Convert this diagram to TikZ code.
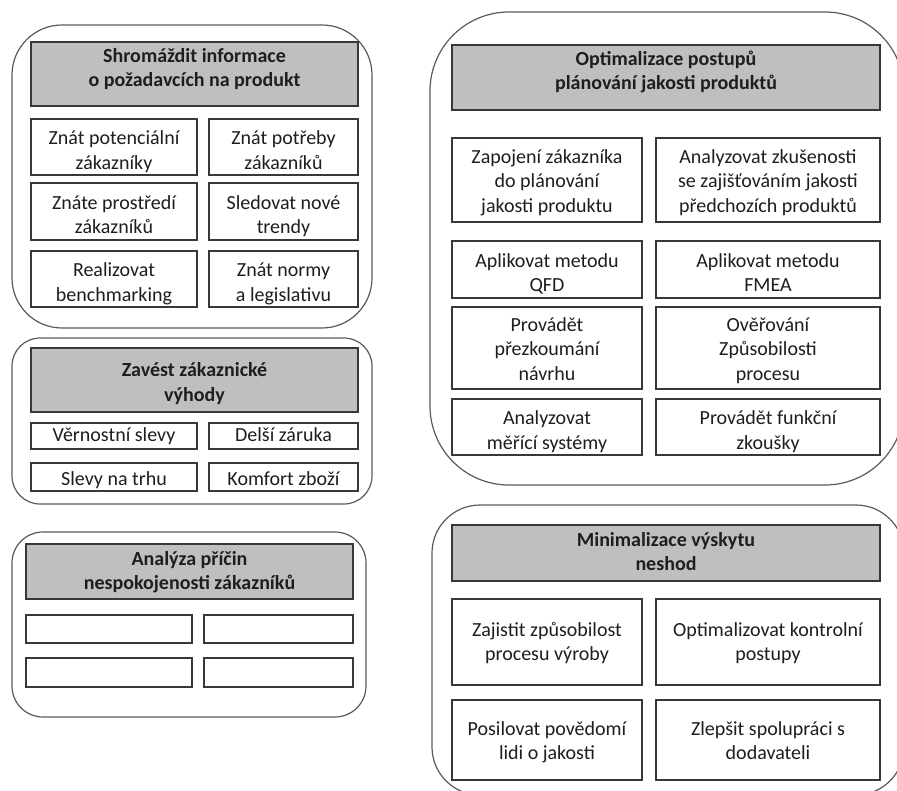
\documentclass[tikz,border=0pt]{standalone}
\usepackage{fontspec}
\setmainfont{Carlito}
\definecolor{hdrfill}{HTML}{BFBFBF}
\definecolor{boxline}{HTML}{383838}
\definecolor{grpline}{HTML}{5A5A5A}
\definecolor{ink}{HTML}{1E1E1E}
% struts at the first and last line fix where a block of lines (24.5pt apart)
% sits in its box: tpos={offset of first baseline from the centre}{number of lines}
\def\thgt{21.5}
\def\tdep{5}
\newcommand\tb{\rule{0pt}{\thgt pt}}
\newcommand\te{\rule[-\tdep pt]{0pt}{\tdep pt}}
\begin{document}
\begin{tikzpicture}[x=1pt,y=-1pt,
  tpos/.code 2 args={%
    \pgfmathsetmacro\tdep{max(5,16-2*(#1)-(#2-1)*24.5)}%
    \pgfmathsetmacro\thgt{2*(#1)+(#2-1)*24.5+\tdep}},
  txt/.style={text=ink, align=center, inner sep=0pt},
  group/.style={draw=grpline, line width=1.2pt, fill=white},
  hdr/.style={txt, draw=boxline, line width=1.4pt, fill=hdrfill,
    font=\bfseries\fontsize{20}{24.5}\selectfont},
  cell/.style={txt, draw=boxline, line width=1.4pt, fill=white,
    font=\fontsize{20}{24.5}\selectfont, tpos={-2.5}{2}},
]
\useasboundingbox (0,0) rectangle (897,790);
\clip (0,0) rectangle (897,790);
\fill[white] (0,0) rectangle (897,790);

% --- Shromáždit informace ---
\draw[group, rounded corners=50pt] (12,25) rectangle (372,328);
\node[hdr, tpos={-12}{2}, minimum width=327pt, minimum height=64pt] (h1) at (194.5,74) {\tb Shromáždit informace\\o požadavcích na produkt\te};
\node[cell, minimum width=166pt, minimum height=56pt] (a11) at (114,147) {\tb Znát potenciální\\zákazníky\te};
\node[cell, minimum width=149pt, minimum height=56pt] (a12) at (283.5,147) {\tb Znát potřeby\\zákazníků\te};
\node[cell, minimum width=166pt, minimum height=57pt] (a21) at (114,211.5) {\tb Znáte prostředí\\zákazníků\te};
\node[cell, minimum width=149pt, minimum height=57pt] (a22) at (283.5,211.5) {\tb Sledovat nové\\trendy\te};
\node[cell, minimum width=166pt, minimum height=56pt] (a31) at (114,279) {\tb Realizovat\\benchmarking\te};
\node[cell, minimum width=149pt, minimum height=56pt] (a32) at (283.5,279) {\tb Znát normy\\a legislativu\te};

% --- Zavést zákaznické výhody ---
\draw[group, rounded corners=28pt] (12,338) rectangle (372,504);
\node[hdr, tpos={-3.3}{2}, minimum width=327pt, minimum height=64pt] (h2) at (194.5,380) {\tb Zavést zákaznické\\výhody\te};
\node[cell, tpos={5.7}{1}, minimum width=166pt, minimum height=26pt] (b11) at (114,436) {\tb Věrnostní slevy\te};
\node[cell, tpos={5.7}{1}, minimum width=149pt, minimum height=26pt] (b12) at (283.5,436) {\tb Delší záruka\te};
\node[cell, tpos={8}{1}, minimum width=166pt, minimum height=28pt] (b21) at (114,477) {\tb Slevy na trhu\te};
\node[cell, tpos={8}{1}, minimum width=149pt, minimum height=28pt] (b22) at (283.5,477) {\tb Komfort zboží\te};

% --- Analýza příčin nespokojenosti ---
\draw[group, rounded corners=31pt] (12,532) rectangle (366,717);
\node[hdr, tpos={-6.5}{2}, minimum width=327pt, minimum height=55pt] (h3) at (189.5,571.5) {\tb Analýza příčin\\nespokojenosti zákazníků\te};
\node[cell, minimum width=166pt, minimum height=28pt] (c11) at (109,629) {};
\node[cell, minimum width=149pt, minimum height=28pt] (c12) at (278.5,629) {};
\node[cell, minimum width=166pt, minimum height=29pt] (c21) at (109,672.5) {};
\node[cell, minimum width=149pt, minimum height=29pt] (c22) at (278.5,672.5) {};

% --- Optimalizace postupů plánování jakosti ---
\draw[group, rounded corners=79pt] (430,12) rectangle (904,485);
\node[hdr, tpos={-12.5}{2}, minimum width=428pt, minimum height=65pt] (h4) at (666,77.5) {\tb Optimalizace postupů\\plánování jakosti produktů\te};
\node[cell, tpos={-17}{3}, minimum width=190pt, minimum height=84pt] (d11) at (547,180) {\tb Zapojení zákazníka\\do plánování\\jakosti produktu\te};
\node[cell, tpos={-17}{3}, minimum width=224pt, minimum height=84pt] (d12) at (768,180) {\tb Analyzovat zkušenosti\\se zajišťováním jakosti\\předchozích produktů\te};
\node[cell, minimum width=190pt, minimum height=57pt] (d21) at (547,269.5) {\tb Aplikovat metodu\\QFD\te};
\node[cell, minimum width=224pt, minimum height=57pt] (d22) at (768,269.5) {\tb Aplikovat metodu\\FMEA\te};
\node[cell, tpos={-17}{3}, minimum width=190pt, minimum height=82pt] (d31) at (547,348) {\tb Provádět\\přezkoumání\\návrhu\te};
\node[cell, tpos={-17}{3}, minimum width=224pt, minimum height=82pt] (d32) at (768,348) {\tb Ověřování\\Způsobilosti\\procesu\te};
\node[cell, minimum width=190pt, minimum height=56pt] (d41) at (547,427) {\tb Analyzovat\\měřící systémy\te};
\node[cell, minimum width=224pt, minimum height=56pt] (d42) at (768,427) {\tb Provádět funkční\\zkoušky\te};

% --- Minimalizace výskytu neshod ---
\draw[group, rounded corners=48pt] (432,505) rectangle (904,795);
\node[hdr, tpos={-7}{2}, minimum width=428pt, minimum height=56pt] (h5) at (666,553) {\tb Minimalizace výskytu\\neshod\te};
\node[cell, tpos={-6}{2}, minimum width=190pt, minimum height=86pt] (e11) at (547,642) {\tb Zajistit způsobilost\\procesu výroby\te};
\node[cell, tpos={-6}{2}, minimum width=224pt, minimum height=86pt] (e12) at (768,642) {\tb Optimalizovat kontrolní\\postupy\te};
\node[cell, tpos={-5}{2}, minimum width=190pt, minimum height=80pt] (e21) at (547,740) {\tb Posilovat povědomí\\lidi o jakosti\te};
\node[cell, tpos={-5}{2}, minimum width=224pt, minimum height=80pt] (e22) at (768,740) {\tb Zlepšit spolupráci s\\dodavateli\te};
\end{tikzpicture}
\end{document}
